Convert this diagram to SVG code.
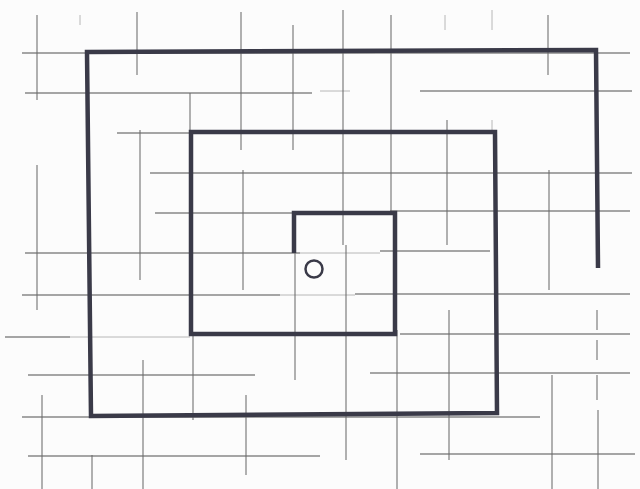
<svg xmlns="http://www.w3.org/2000/svg" width="640" height="489" viewBox="0 0 640 489">
<style>
.g{stroke:#6a6a6a;stroke-width:1.3;fill:none;opacity:0.8}
.gf{stroke:#8a8a8a;stroke-width:1;fill:none;opacity:0.6}
.s{stroke:#3a3a48;stroke-width:4.5;fill:none;stroke-linejoin:miter;stroke-linecap:butt}
</style>
<rect width="640" height="489" fill="#fcfcfc"/>
<g id="grid">
<path class="g" d="M22 53H630 M25 93H312 M420 91H632 M117 133H190 M150 173H632 M155 213H295 M390 211H630 M25 253H300 M380 251H490 M22 295H280 M355 294H630 M5 337H70 M400 334H630 M28 375H255 M370 373H630 M22 417H540 M28 456H320 M420 454H635"/>
<path class="gf" d="M320 91H350 M300 253H380 M280 295H355 M70 337H190"/>
<path class="g" d="M37 15V100 M37 165V310 M42 395V489 M92 455V489 M137 12V75 M140 130V280 M143 360V489 M190 93V133 M193 334V420 M241 12V150 M243 170V290 M246 395V475 M293 25V150 M295 245V380 M343 10V245 M346 245V460 M391 15V213 M397 330V489 M447 120V245 M449 310V460 M548 15V75 M549 170V290 M552 375V489"/>
<path class="gf" d="M445 15V30 M492 10V30 M492 120V132 M80 15V25"/>
<path class="g" d="M597 310V330 M597 340V360 M597 375V400 M598 410V489" />
</g>
<g id="spiral">
<path class="s" d="M294 253V213H395V334H191V132H495L497 413L91 416L87 52L596 50L598 268"/>
<circle cx="314" cy="269" r="8.5" fill="none" stroke="#3a3a48" stroke-width="2.5"/>
</g>
</svg>
